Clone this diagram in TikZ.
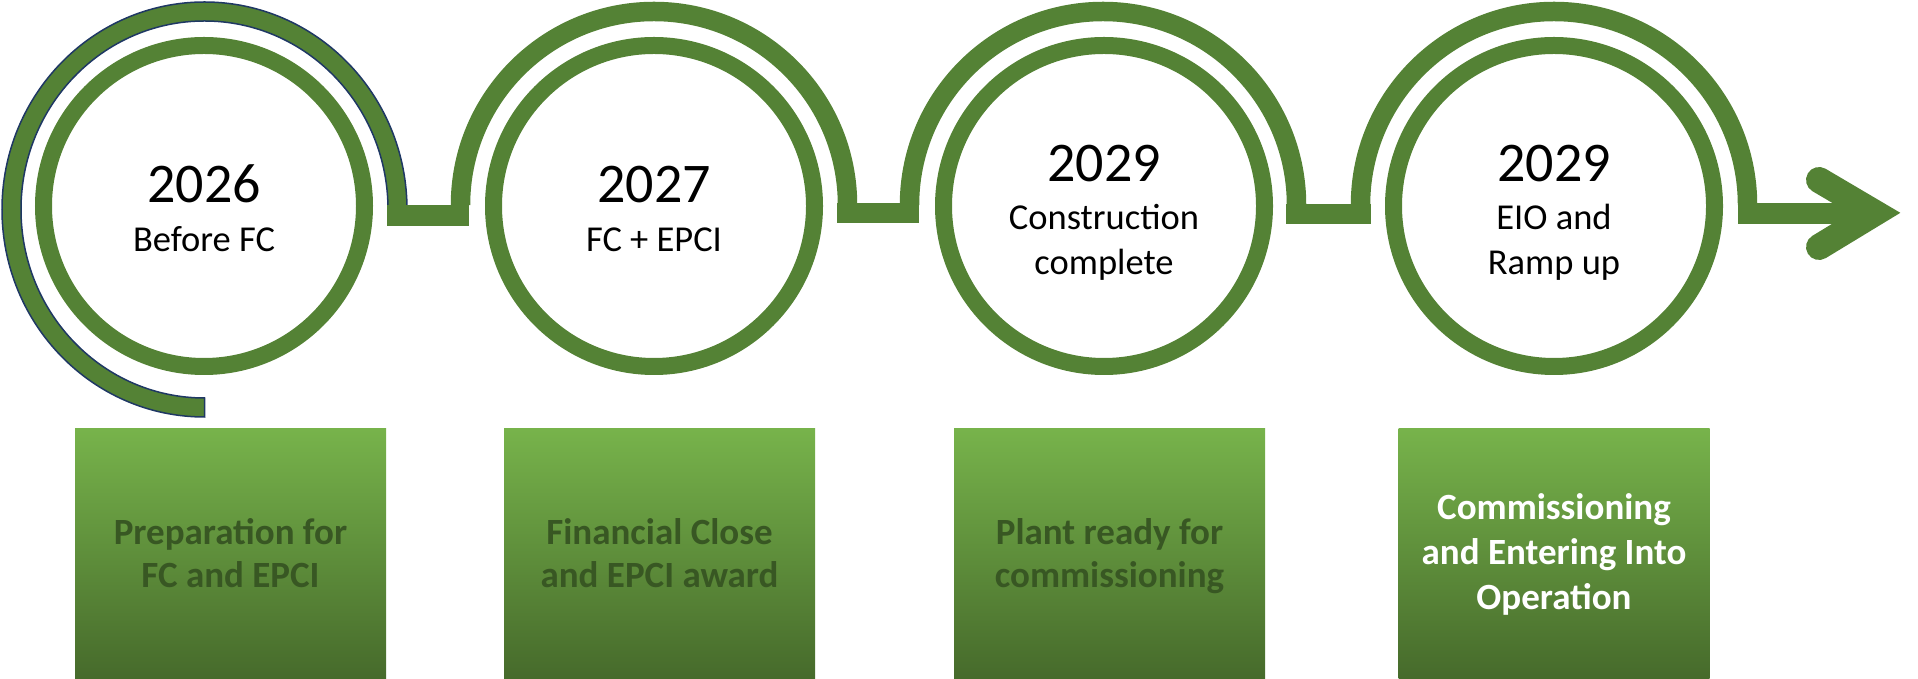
\documentclass[tikz,border=0pt]{standalone}
\usepackage{fontspec}
\setmainfont{Carlito}
\definecolor{ring}{HTML}{548235}
\definecolor{navy}{HTML}{1F3864}
\definecolor{boxtop}{HTML}{77B34B}
\definecolor{boxmid}{HTML}{6CA444}
\definecolor{boxbot}{HTML}{466A2B}
\definecolor{boxtext}{HTML}{385723}
\newcommand\mytxtyear{\fontsize{56}{60}\selectfont}
\newcommand\mytxtsub{\fontsize{36.5}{44}\selectfont}
\newcommand\mytxtbox{\fontsize{37}{44}\selectfont\bfseries}
\begin{document}
\begin{tikzpicture}[x=1pt,y=1pt,
  ringc/.style={circle, draw=ring, line width=17pt, minimum size=321pt, inner sep=0pt},
  hump/.style={draw=ring, line width=19.5pt},
  barc/.style={fill=ring},
  stagebox/.style={rectangle, minimum width=311pt, minimum height=250pt, inner sep=0pt,
    top color=boxtop, middle color=boxmid, bottom color=boxbot},
  yeartxt/.style={anchor=base, font=\mytxtyear, text=black, inner sep=0pt},
  subtxt/.style={anchor=base, font=\mytxtsub, text=black, inner sep=0pt},
  boxtxt/.style={anchor=base, font=\mytxtbox, text=boxtext, inner sep=0pt},
  boxtxtw/.style={anchor=base, font=\mytxtbox, text=white, inner sep=0pt}]
\useasboundingbox (0,0) rectangle (1918,679);

% outer arcs
\filldraw[fill=ring, draw=navy, line width=1.5pt]
  (407,469.5) arc[start angle=0, end angle=270, x radius=202.5, y radius=207.5]
  -- ++(0,19) arc[start angle=270, end angle=0, x radius=183.5, y radius=188.5] -- cycle;
\draw[hump] (460.5,474) arc[start angle=180, end angle=0, radius=193.5];
\draw[hump] (909.5,474) arc[start angle=180, end angle=0, radius=193.5];
\draw[hump] (1360.5,474) arc[start angle=180, end angle=0, radius=193.5];

% connector bars
\coordinate (k1a) at (387,453); \coordinate (k1b) at (469,474);
\coordinate (k2a) at (837,456); \coordinate (k2b) at (919,476);
\coordinate (k3a) at (1286,455); \coordinate (k3b) at (1371,475);
\coordinate (k4a) at (1738,455); \coordinate (k4b) at (1880,476);
\fill[barc] (k1a) rectangle (k1b);
\fill[barc] (k2a) rectangle (k2b);
\fill[barc] (k3a) rectangle (k3b);
\fill[barc] (k4a) rectangle (k4b);
% arrow head
\coordinate (ah1) at (1819,499);
\coordinate (ahv) at (1875,466);
\coordinate (ah2) at (1819,432);
\draw[ring, line width=26pt, line cap=round, line join=miter] (ah1) -- (ahv) -- (ah2);

% circles
\node[ringc] (c1) at (204,473) {};
\node[ringc] (c2) at (654,473) {};
\node[ringc] (c3) at (1104,473) {};
\node[ringc] (c4) at (1554,473) {};

% circle texts
\node[yeartxt] (y1) at (204,476) {2026};
\node[subtxt] (s1) at (204,427) {Before FC};
\node[yeartxt] (y2) at (654,476) {2027};
\node[subtxt] (s2) at (654,427) {FC + EPCI};
\node[yeartxt] (y3) at (1104,497) {2029};
\node[subtxt] (s3a) at (1104,449) {Construction};
\node[subtxt] (s3b) at (1104,404) {complete};
\node[yeartxt] (y4) at (1554,497) {2029};
\node[subtxt] (s4a) at (1554,449) {EIO and};
\node[subtxt] (s4b) at (1554,404) {Ramp up};

% boxes
\node[stagebox] (b1) at (230.5,125) {};
\node[stagebox] (b2) at (659.5,125) {};
\node[stagebox] (b3) at (1109.5,125) {};
\node[stagebox] (b4) at (1554,125) {};

\node[boxtxt] (t1a) at (230.5,134) {Preparation for};
\node[boxtxt] (t1b) at (230.5,91) {FC and EPCI};
\node[boxtxt] (t2a) at (659.5,134) {Financial Close};
\node[boxtxt] (t2b) at (659.5,91) {and EPCI award};
\node[boxtxt] (t3a) at (1109.5,134) {Plant ready for};
\node[boxtxt] (t3b) at (1109.5,91) {commissioning};
\node[boxtxtw] (t4a) at (1554,159) {Commissioning};
\node[boxtxtw] (t4b) at (1554,114) {and Entering Into};
\node[boxtxtw] (t4c) at (1554,69) {Operation};
\end{tikzpicture}
\end{document}
